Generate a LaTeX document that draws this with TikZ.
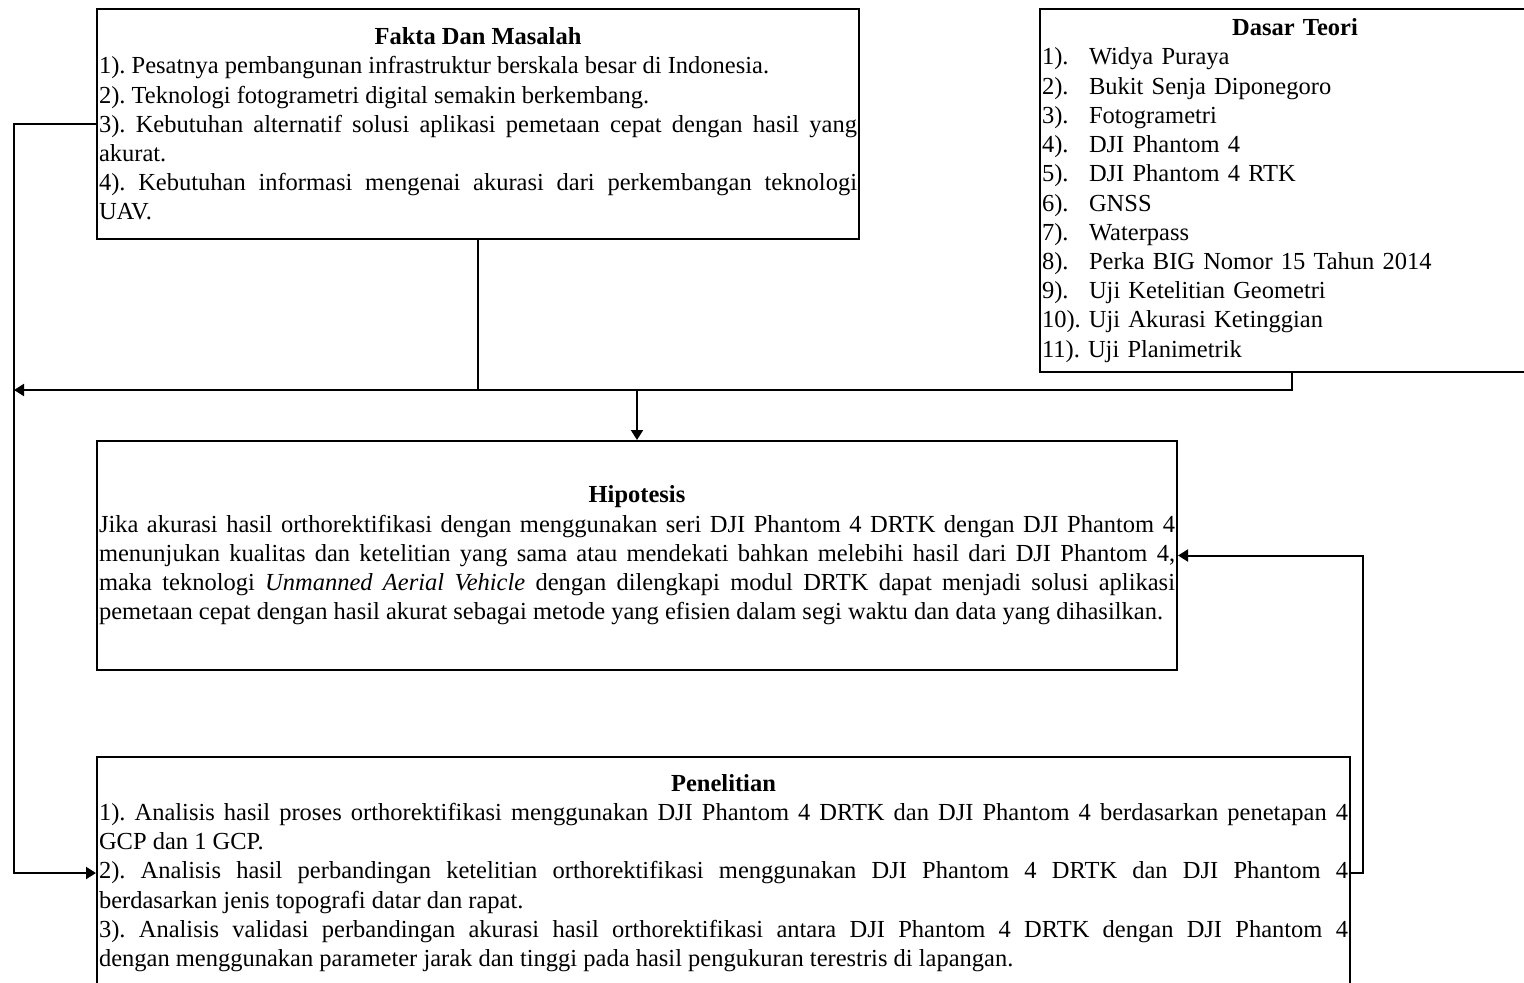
\documentclass[tikz,border=0pt]{standalone}
\usepackage{fontspec}
\setmainfont{Liberation Serif}
\usetikzlibrary{arrows.meta}
\hyphenpenalty=10000
\exhyphenpenalty=10000
\tolerance=9999
\frenchspacing

\newcommand{\itemno}[1]{\makebox[23.5pt][l]{#1}}

\begin{document}
\begin{tikzpicture}[
        x=0.5pt, y=-0.5pt,
        font=\fontsize{12.25pt}{14.6pt}\selectfont\frenchspacing,
        box/.style={draw, line width=1pt, rectangle, inner xsep=1pt, inner ysep=0pt},
        link/.style={draw, line width=1pt},
        arr/.style={link, -{Triangle[length=5pt, width=6pt]}}
    ]
        \useasboundingbox (0,0) rectangle (1524,982);
        \clip (0,0) rectangle (1524,982);

        % Nodes
        \node[box, minimum width=381pt, minimum height=115pt, text width=379pt, align=justify] (fakta) at (478,124) {%
            {\centering\textbf{Fakta Dan Masalah}\par}
            1). Pesatnya pembangunan infrastruktur berskala besar di Indonesia.\par
            2). Teknologi fotogrametri digital semakin berkembang.\par
            3). Kebutuhan alternatif solusi aplikasi pemetaan cepat dengan hasil yang\linebreak akurat.\par
            4). Kebutuhan informasi mengenai akurasi dari perkembangan teknologi\linebreak UAV.\par};
        \node[box, minimum width=255pt, minimum height=181.5pt, text width=253pt] (dasar) at (1295,190.5) {%
            {\centering\textbf{Dasar Teori}\par}
            \raggedright
            \itemno{1).}Widya Puraya\par
            \itemno{2).}Bukit Senja Diponegoro\par
            \itemno{3).}Fotogrametri\par
            \itemno{4).}DJI Phantom 4\par
            \itemno{5).}DJI Phantom 4 RTK\par
            \itemno{6).}GNSS\par
            \itemno{7).}Waterpass\par
            \itemno{8).}Perka BIG Nomor 15 Tahun 2014\par
            \itemno{9).}Uji Ketelitian Geometri\par
            10). Uji Akurasi Ketinggian\par
            11). Uji Planimetrik\par};
        \node[box, minimum width=540pt, minimum height=114.5pt, text width=538pt, align=justify] (hipotesis) at (637,555.5) {%
            {\centering\textbf{Hipotesis}\par}
            Jika akurasi hasil orthorektifikasi dengan menggunakan seri DJI Phantom 4 DRTK dengan DJI Phantom 4\linebreak
            menunjukan kualitas dan ketelitian yang sama atau mendekati bahkan melebihi hasil dari DJI Phantom 4,\linebreak
            maka teknologi \textit{Unmanned Aerial Vehicle} dengan dilengkapi modul DRTK dapat menjadi solusi aplikasi\linebreak
            pemetaan cepat dengan hasil akurat sebagai metode yang efisien dalam segi waktu dan data yang dihasilkan.\par};
        \node[box, minimum width=626.5pt, minimum height=116pt, text width=624.5pt, align=justify] (penelitian) at (723.5,873) {%
            {\centering\textbf{Penelitian}\par}
            1). Analisis hasil proses orthorektifikasi menggunakan DJI Phantom 4 DRTK dan DJI Phantom 4 berdasarkan penetapan 4\linebreak GCP dan 1 GCP.\par
            2). Analisis hasil perbandingan ketelitian orthorektifikasi menggunakan DJI Phantom 4 DRTK dan DJI Phantom 4\linebreak berdasarkan jenis topografi datar dan rapat.\par
            3). Analisis validasi perbandingan akurasi hasil orthorektifikasi antara DJI Phantom 4 DRTK dengan DJI Phantom 4\linebreak dengan menggunakan parameter jarak dan tinggi pada hasil pengukuran terestris di lapangan.\par};

        \coordinate (busL) at (14,390);
        \coordinate (busM) at (hipotesis.north |- busL);
        \coordinate (loopR) at (1363,873);

        % Edges
        \draw[arr] (fakta.south) |- (busL);
        \draw[link] ([xshift=-1.5pt]dasar.south) |- (fakta.south |- busL);
        \draw[arr] (busM) -- (hipotesis.north);
        \draw[arr] (fakta.west) -- (fakta.west -| busL) -- (penelitian.west -| busL) -- (penelitian.west);
        \draw[arr] (penelitian.east) -- (loopR) -- (hipotesis.east -| loopR) -- (hipotesis.east);
    \end{tikzpicture}
\end{document}
